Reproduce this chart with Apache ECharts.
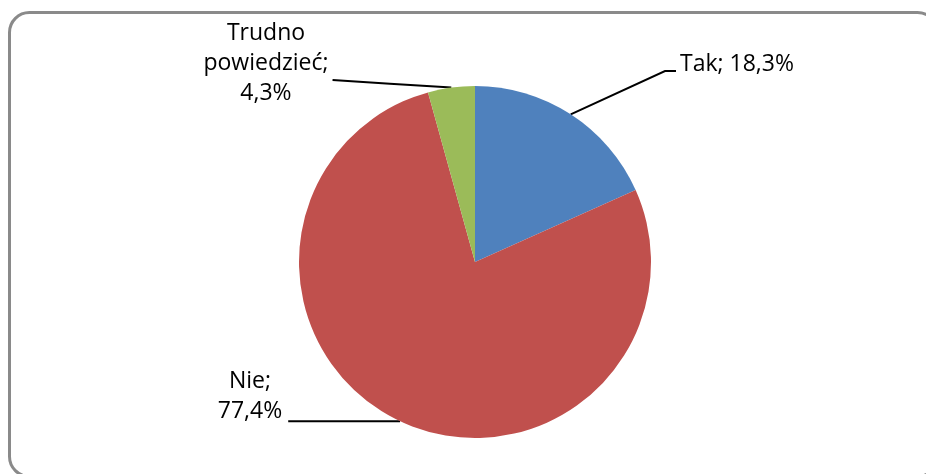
<!DOCTYPE html>
<html>
<head>
<meta charset="utf-8">
<script src="https://cdn.jsdelivr.net/npm/echarts@6/dist/echarts.min.js"></script>
<style>
  html, body { margin: 0; padding: 0; background: #fff; overflow: hidden; }
  #chart { width: 926px; height: 474px; }
</style>
</head>
<body>
<div id="chart"></div>
<script>
// dane
var categories = ['Tak', 'Nie', 'Trudno powiedzieć'];
var values = [18.3, 77.4, 4.3];
var colors = ['#4F81BD', '#C0504D', '#9BBB59'];

// pozycje etykiet (jak w Excelu)
var labelPos = [
  { x: 680, y: 64, align: 'left' },
  { x: 250, y: 396, align: 'center' },
  { x: 266, y: 63, align: 'center' }
];

var myChart = echarts.init(document.getElementById('chart'));

var option = {
  animation: false,
  // ramka wykresu (prawa krawędź poza obszarem)
  graphic: [
    {
      type: 'rect',
      silent: true,
      shape: { x: 9.5, y: 12.5, width: 928, height: 464, r: 20 },
      style: { fill: 'none', stroke: '#8a8a8a', lineWidth: 3 }
    }
  ],
  series: [
    {
      type: 'pie',
      center: [475, 262],
      radius: 176,
      startAngle: 90,
      clockwise: true,
      avoidLabelOverlap: false,
      itemStyle: { borderWidth: 0 },
      label: {
        show: true,
        position: 'outside',
        color: '#000',
        fontFamily: 'Open Sans',
        fontSize: 23,
        lineHeight: 30,
        formatter: function (p) {
          var v = p.value.toFixed(1).replace('.', ',') + '%';
          if (p.dataIndex === 0) return p.name + '; ' + v;
          return p.name.replace(' ', '\n') + ';\n' + v;
        }
      },
      labelLine: {
        show: true,
        lineStyle: { color: '#000', width: 2 }
      },
      labelLayout: function (params) {
        var i = params.dataIndex;
        var pos = labelPos[i];
        var w = params.labelRect.width;
        var p0 = params.labelLinePoints[0];
        var left = pos.align === 'left' ? pos.x : pos.x - w / 2;
        var right = left + w;
        var pts;
        if (i === 0) {
          pts = [p0, [left - 15, pos.y + 7], [left - 4, pos.y + 7]];
        } else if (i === 1) {
          pts = [p0, [(p0[0] + right) / 2, p0[1]], [right + 6, p0[1]]];
        } else {
          pts = [p0, [(p0[0] + right) / 2, (p0[1] + pos.y + 17) / 2], [right + 4, pos.y + 17]];
        }
        return {
          x: pos.x,
          y: pos.y,
          align: pos.align,
          verticalAlign: 'middle',
          labelLinePoints: pts
        };
      },
      data: categories.map(function (c, i) {
        return { name: c, value: values[i], itemStyle: { color: colors[i] } };
      })
    }
  ]
};

myChart.setOption(option);
</script>
</body>
</html>
